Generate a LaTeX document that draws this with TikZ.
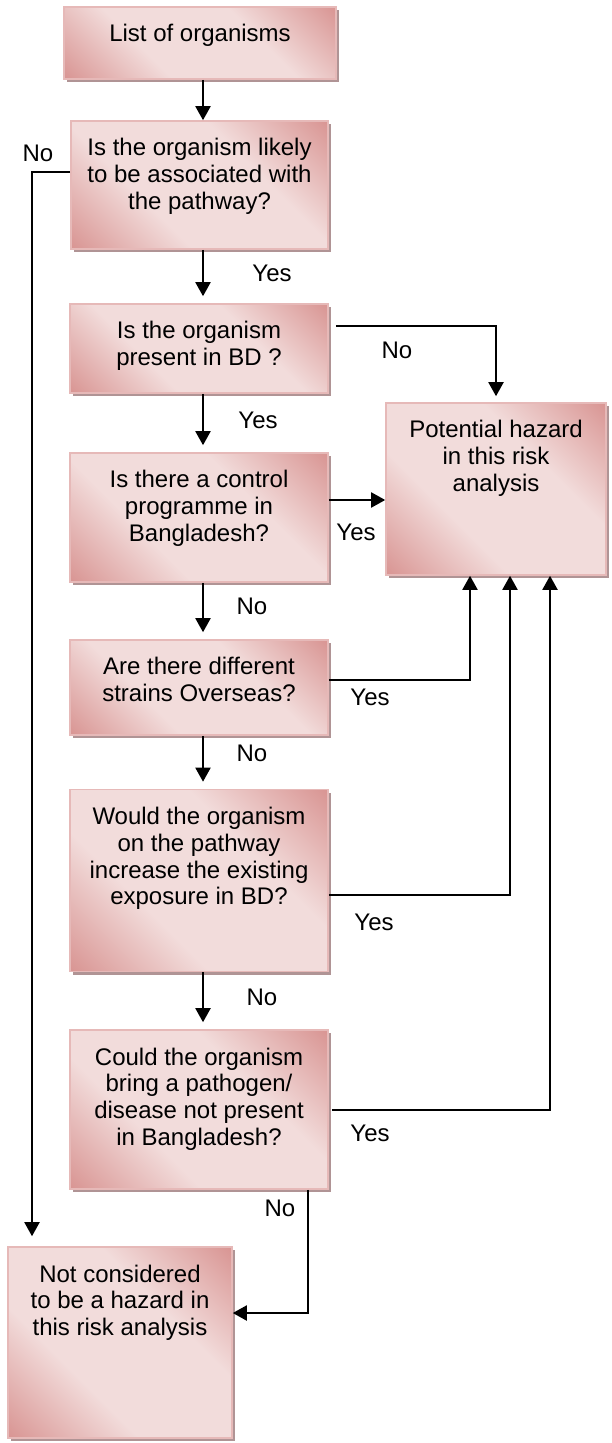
\documentclass[tikz,border=0pt]{standalone}
\usepackage{fontspec}
\setmainfont{Liberation Sans}
\usetikzlibrary{arrows.meta}
\usetikzlibrary{shadows}
\definecolor{boxdark}{HTML}{D99694}
\definecolor{boxlight}{HTML}{F2DCDB}
\definecolor{boxedge}{HTML}{E6B9B8}
\definecolor{boxshade}{RGB}{176,148,149}
\pgfdeclareverticalshading{stepshade}{100bp}{color(0bp)=(boxdark); color(15bp)=(boxdark);
  color(37bp)=(boxlight); color(63bp)=(boxlight); color(85bp)=(boxdark); color(100bp)=(boxdark)}
\tikzstyle{stepbox}=[rectangle, inner sep=0pt, draw=boxedge, line width=0.8pt,
  shading=stepshade, shading angle=-45,
  drop shadow={shadow xshift=1.5pt, shadow yshift=-1.5pt, fill=boxshade, opacity=1}]
\tikzstyle{boxtext}=[anchor=north, yshift=-9pt, inner sep=0pt, align=center, font=\fontsize{12}{13.4}\selectfont]
\tikzstyle{tag}=[inner sep=0pt, font=\fontsize{12}{13.4}\selectfont]
\tikzstyle{flow}=[line width=1pt, -{Triangle[length=7pt,width=7.5pt]}]

\begin{document}
\begin{tikzpicture}[x=0.5pt, y=-0.5pt]
    \useasboundingbox (0,0) rectangle (611,1443);
    % decision boxes
    \node[stepbox, minimum width=136pt, minimum height=36pt,
        label={[boxtext]north:List of organisms}] (list) at (200,43) {};
    \node[stepbox, minimum width=128.5pt, minimum height=64pt,
        label={[boxtext]north:Is the organism likely\\to be associated with\\the pathway?}] (assoc) at (199.5,185) {};
    \node[stepbox, minimum width=129pt, minimum height=44.5pt,
        label={[boxtext]north:Is the organism\\present in BD ?}] (present) at (199,348.5) {};
    \node[stepbox, minimum width=129pt, minimum height=64.5pt,
        label={[boxtext]north:Is there a control\\programme in\\Bangladesh?}] (control) at (199,517.5) {};
    \node[stepbox, minimum width=129pt, minimum height=47.5pt,
        label={[boxtext]north:Are there different\\strains Overseas?}] (strains) at (199,687.5) {};
    \node[stepbox, minimum width=129pt, minimum height=91pt,
        label={[boxtext]north:Would the organism\\on the pathway\\increase the existing\\exposure in BD?}] (exposure) at (199,880.5) {};
    \node[stepbox, minimum width=129pt, minimum height=79.5pt,
        label={[boxtext]north:Could the organism\\bring a pathogen/\\disease not present\\in Bangladesh?}] (disease) at (199,1109.5) {};
    % outcomes
    \node[stepbox, minimum width=110pt, minimum height=86pt,
        label={[boxtext]north:Potential hazard\\in this risk\\analysis}] (hazard) at (496,489) {};
    \node[stepbox, minimum width=112pt, minimum height=95.5pt,
        label={[boxtext]north:Not considered\\to be a hazard in\\this risk analysis}] (nothazard) at (120,1342.5) {};

    % main line
    \coordinate (spine) at (203,0);
    \coordinate (leftrail) at (32,0);
    \draw[flow] (list.south -| spine) -- (assoc.north -| spine);
    \foreach \from/\to in {assoc/present, present/control, control/strains, strains/exposure, exposure/disease}
        \draw[flow, shorten >=3.5pt] (\from.south -| spine) -- (\to.north -| spine);

    % branches
    \draw[flow, shorten >=5pt] ([yshift=6.5pt]assoc.west) -| (nothazard.north -| leftrail);
    \draw[flow, shorten >=3pt] ([xshift=3.5pt,yshift=11.25pt]present.east) -| (hazard.north);
    \draw[flow] ([yshift=8.75pt]control.east) -- ([yshift=8.75pt]control.east -| hazard.west);
    \draw[flow] ([yshift=3.75pt]strains.east) -| ([xshift=-13pt]hazard.south);
    \draw[flow] ([yshift=-7pt]exposure.east) -| ([xshift=7pt]hazard.south);
    \draw[flow] ([xshift=1.5pt]disease.east) -| ([xshift=27pt]hazard.south);
    \draw[flow] ([xshift=54.5pt]disease.south) |- ([yshift=14.75pt]nothazard.east);

    % answers
    \node[tag] (no1) at (38,153) {No};
    \node[tag] (yes1) at (272,273) {Yes};
    \node[tag] (no2) at (397,350) {No};
    \node[tag] (yes2) at (258,420) {Yes};
    \node[tag] (yes3) at (356,532) {Yes};
    \node[tag] (no3) at (252,606) {No};
    \node[tag] (yes4) at (370,697) {Yes};
    \node[tag] (no4) at (252,753) {No};
    \node[tag] (yes5) at (374,922) {Yes};
    \node[tag] (no5) at (262,997) {No};
    \node[tag] (yes6) at (370,1133) {Yes};
    \node[tag] (no6) at (280,1208) {No};
\end{tikzpicture}
\end{document}
